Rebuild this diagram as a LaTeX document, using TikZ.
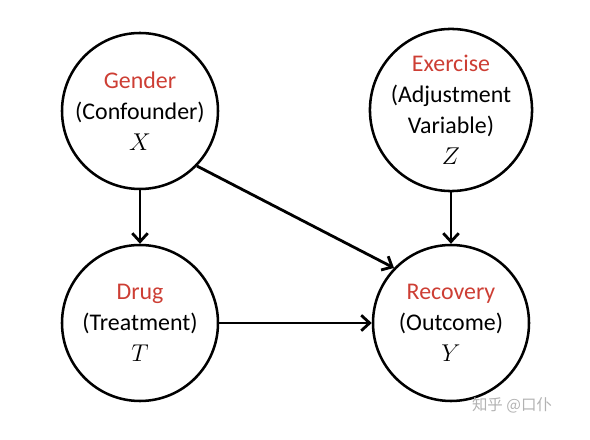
\documentclass[tikz,border=0pt]{standalone}
\usepackage{fontspec}
\setmainfont{Carlito}
\newfontfamily\cjkfont{Noto Sans CJK SC}
\usepackage{xcolor}
\usetikzlibrary{arrows.meta,positioning}
\definecolor{varred}{RGB}{205,62,52}
\tikzset{%
	varnode/.style = {draw, circle, line width=1.8pt, minimum size=3.9cm, inner sep=0pt, align=center, font=\fontsize{17}{22}\selectfont},
	arrow/.style   = {line width=2pt, -{Straight Barb[length=6pt,width=11pt,line width=2pt]}},
}
\newcommand{\varname}[1]{\textcolor{varred}{#1}}

\begin{document}
\begin{tikzpicture}
	\useasboundingbox (0,0) rectangle (14.75,11);
	\node[varnode] (gender) at (3.5,8.225) {\varname{Gender}\\(Confounder)\\$X$};
	\node[varnode] (exercise) at (11.275,8.25) {\varname{Exercise}\\(Adjustment\\Variable)\\$Z$};
	\node[varnode] (drug) at (3.5,2.925) {\varname{Drug}\\(Treatment)\\$T$};
	\node[varnode] (recovery) at (11.275,2.925) {\varname{Recovery}\\(Outcome)\\$Y$};
	
	\draw[arrow] (gender) -- (drug);
	\draw[arrow] (exercise) -- (recovery);
	\draw[arrow] (drug) -- (recovery);
	\draw[arrow] (gender.-44) -- (recovery.136);
	
	\node[text=black!30, font=\cjkfont\fontsize{11}{13}\selectfont] (mark) at (12.8,0.87) {知乎 @口仆};
\end{tikzpicture}
\end{document}
